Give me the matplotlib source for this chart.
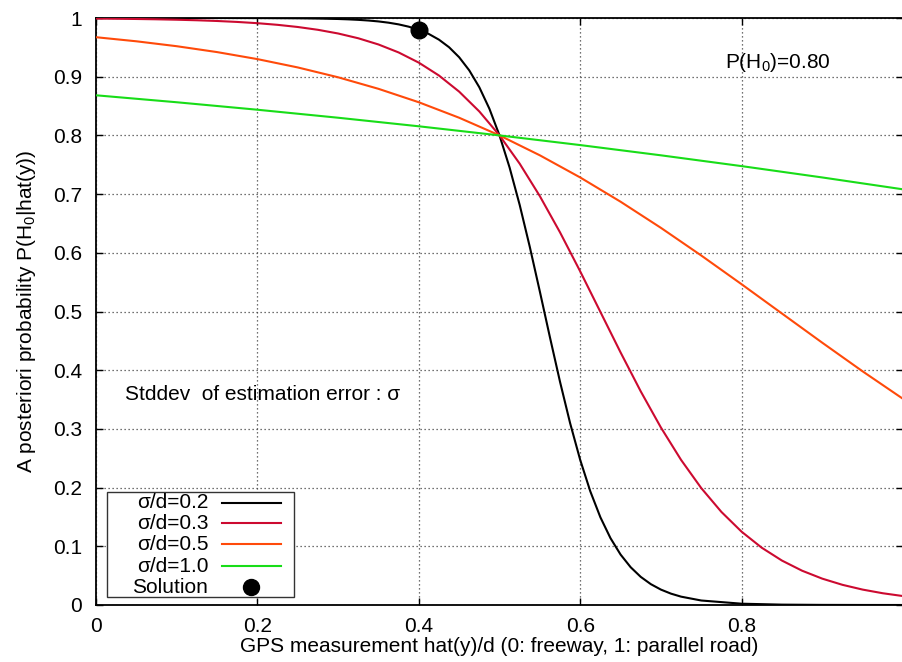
import matplotlib
matplotlib.use("Agg")
import matplotlib.pyplot as plt
from matplotlib.patches import Rectangle
from matplotlib.lines import Line2D

plt.rcParams['font.family'] = ['Liberation Sans', 'DejaVu Sans']
plt.rcParams['mathtext.fontset'] = 'custom'
plt.rcParams['mathtext.rm'] = 'Liberation Sans'
plt.rcParams['mathtext.it'] = 'Liberation Sans:italic'

# ---------------- data ----------------
black_x = [0, 0.05, 0.1, 0.15, 0.2, 0.25, 0.275, 0.3, 0.3125, 0.325, 0.3375, 0.35,
           0.3625, 0.375, 0.3875, 0.4, 0.4125, 0.425, 0.4375, 0.45, 0.4625, 0.475,
           0.4875, 0.5, 0.5125, 0.525, 0.5375, 0.55, 0.5625, 0.575, 0.5875, 0.6,
           0.6125, 0.625, 0.6375, 0.65, 0.6625, 0.675, 0.6875, 0.7, 0.7125, 0.725,
           0.75, 0.8, 0.85, 0.9, 0.95, 1.0]
black_y = [1.0, 1.0, 0.99999, 0.99996, 0.99986, 0.99952, 0.99910, 0.99832, 0.99770,
           0.99686, 0.99572, 0.99416, 0.99203, 0.98914, 0.98521, 0.97989, 0.97272,
           0.96308, 0.95021, 0.93316, 0.91083, 0.88198, 0.84538, 0.8, 0.74532,
           0.68164, 0.61035, 0.53402, 0.45606, 0.38020, 0.30977, 0.24718, 0.19369,
           0.14948, 0.11393, 0.08598, 0.06439, 0.04794, 0.03553, 0.02624, 0.01934,
           0.01422, 0.00766, 0.00221, 0.00063, 0.00018, 0.00005, 0.00001]

red_x = [0, 0.025, 0.05, 0.075, 0.1, 0.125, 0.15, 0.175, 0.2, 0.225, 0.25, 0.275,
         0.3, 0.325, 0.35, 0.375, 0.4, 0.425, 0.45, 0.475, 0.5, 0.525, 0.55, 0.575,
         0.6, 0.625, 0.65, 0.675, 0.7, 0.725, 0.75, 0.775, 0.8, 0.825, 0.85, 0.875,
         0.9, 0.925, 0.95, 0.975, 1.0]
red_y = [0.99903, 0.99873, 0.99832, 0.99778, 0.99707, 0.99614, 0.99491, 0.99329,
         0.99116, 0.98836, 0.98469, 0.97989, 0.97362, 0.96547, 0.95491, 0.94132,
         0.92396, 0.90200, 0.87456, 0.84079, 0.8, 0.75185, 0.69651, 0.63482,
         0.56836, 0.49935, 0.43036, 0.36397, 0.30239, 0.24718, 0.19917, 0.15852,
         0.12488, 0.09754, 0.07568, 0.05839, 0.04487, 0.03436, 0.02624, 0.02001,
         0.01523]

orange_x = [0, 0.05, 0.1, 0.15, 0.2, 0.25, 0.3, 0.35, 0.4, 0.45, 0.5, 0.55, 0.6,
            0.65, 0.7, 0.75, 0.8, 0.85, 0.9, 0.95, 1.0]
orange_y = [0.96727, 0.96032, 0.95195, 0.94193, 0.92997, 0.91578, 0.89901, 0.87935,
            0.85647, 0.83009, 0.8, 0.76608, 0.72835, 0.68704, 0.64252, 0.59539,
            0.54644, 0.49657, 0.44678, 0.39802, 0.35121]

green_x = [0, 0.1, 0.2, 0.3, 0.4, 0.5, 0.6, 0.7, 0.8, 0.9, 1.0]
green_y = [0.86834, 0.85647, 0.84374, 0.83010, 0.81552, 0.8, 0.78352, 0.76608,
           0.74768, 0.72835, 0.70813]

solution_x = [0.4]
solution_y = [0.98]

series_labels = ['σ/d=0.2', 'σ/d=0.3', 'σ/d=0.5', 'σ/d=1.0']
solution_label = 'Solution'
x_ticks = [0, 0.2, 0.4, 0.6, 0.8]
x_ticklabels = ['0', '0.2', '0.4', '0.6', '0.8']
y_ticks = [0, 0.1, 0.2, 0.3, 0.4, 0.5, 0.6, 0.7, 0.8, 0.9, 1.0]
y_ticklabels = ['0', '0.1', '0.2', '0.3', '0.4', '0.5', '0.6', '0.7', '0.8', '0.9', '1']

colors = ['#000000', '#cc0a30', '#ff4a0a', '#18dd18']

# ---------------- figure ----------------
W, H = 902, 662
fig = plt.figure(figsize=(W / 100, H / 100), dpi=100)
L, R, T, B = 96, 903, 18, 605
ax = fig.add_axes([L / W, (H - B) / H, (R - L) / W, (B - T) / H])
ax.set_xlim(0, 1.0)
ax.set_ylim(0, 1.0)

FS = 15
lw = 1.5
series = [(black_x, black_y), (red_x, red_y), (orange_x, orange_y), (green_x, green_y)]
for (xs, ys), c in zip(series, colors):
    ax.plot(xs, ys, color=c, lw=lw, zorder=3, solid_capstyle='butt')
ax.plot(solution_x, solution_y, 'o', color='black', markersize=12, zorder=6)

# grid
ax.set_xticks(x_ticks)
ax.set_xticklabels(x_ticklabels)
ax.set_yticks(y_ticks)
ax.set_yticklabels(y_ticklabels)
ax.grid(True, linestyle=(0, (1, 2.2)), color='#444444', lw=0.9, zorder=1)
ax.set_axisbelow(True)
ax.tick_params(direction='in', length=5, width=1, labelsize=FS,
               top=True, right=True, colors='black')
ax.tick_params(axis='x', pad=9)
ax.tick_params(axis='y', pad=10)
for s in ['left', 'bottom', 'top']:
    ax.spines[s].set_linewidth(1.3)
ax.spines['right'].set_visible(False)

# axis labels
fig.text((L + R) / 2 / W, 1 - 646 / H,
         'GPS measurement hat(y)/d (0: freeway, 1: parallel road)',
         ha='center', va='center', fontsize=FS)
fig.text(27 / W, 1 - (T + B) / 2 / H,
         'A posteriori probability P(H$_0$|hat(y))',
         ha='center', va='center', rotation=90, fontsize=FS)

# annotations
ax.text(0.036, 0.358, 'Stddev  of estimation error : σ', fontsize=FS,
        ha='left', va='center', zorder=5)
ax.text(0.779, 0.925, 'P(H$_0$)=0.80', fontsize=FS, ha='left', va='center', zorder=5)

# manual gnuplot-style legend
ax.add_patch(Rectangle((0.0140, 0.0131), 0.2450 - 0.0140, 0.192 - 0.0131,
                       transform=ax.transAxes, facecolor='white',
                       edgecolor='#333333', lw=1.0, zorder=4))
rows = [0.1743, 0.1392, 0.1034, 0.0664, 0.0302]
for lab, c, yy in zip(series_labels, colors, rows[:4]):
    ax.text(0.1392, yy, lab, transform=ax.transAxes, ha='right', va='center',
            fontsize=FS, zorder=5)
    ax.add_line(Line2D([0.1565, 0.2289], [yy, yy], transform=ax.transAxes,
                       color=c, lw=lw, zorder=5))
ax.text(0.1392, rows[4], solution_label, transform=ax.transAxes, ha='right',
        va='center', fontsize=FS, zorder=5)
ax.add_line(Line2D([0.1924], [rows[4]], transform=ax.transAxes, marker='o',
                   color='black', markersize=11.5, lw=0, zorder=5))

fig.savefig('out.png', dpi=100)
